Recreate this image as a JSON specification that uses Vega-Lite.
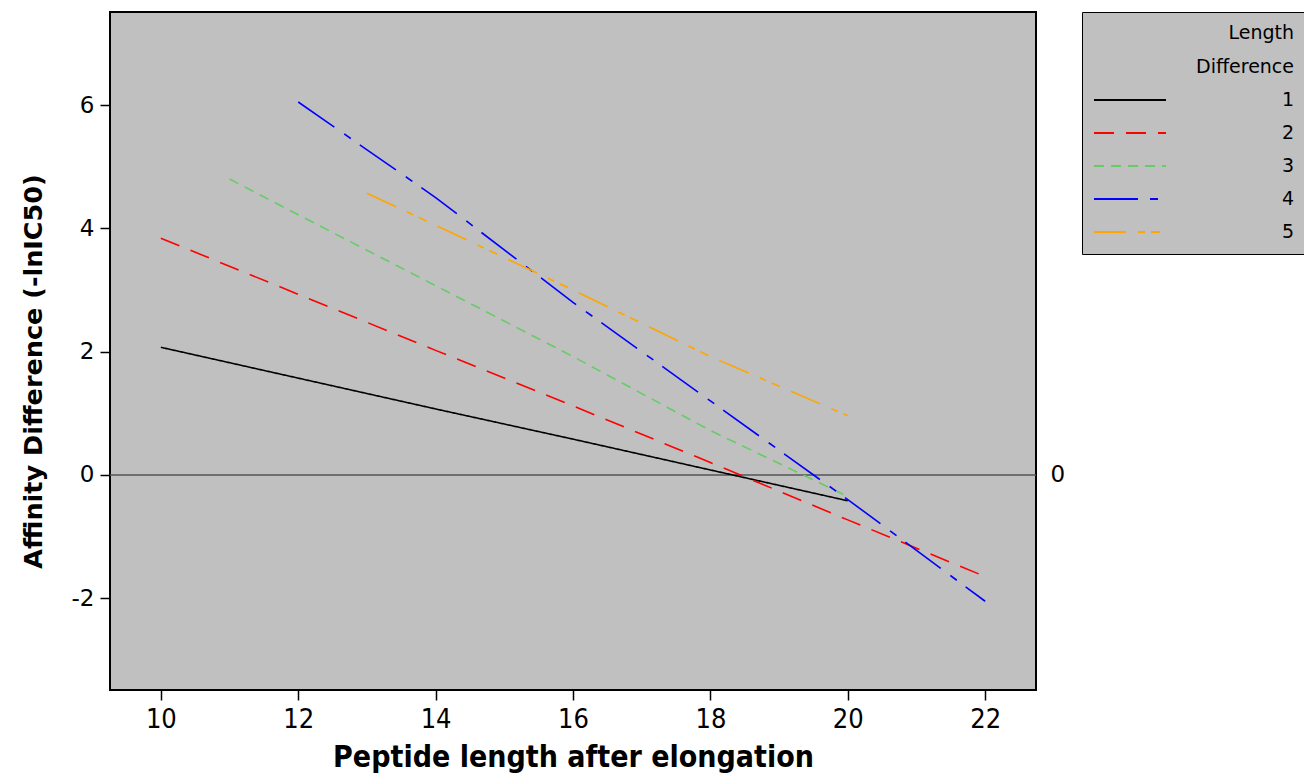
{
  "$schema": "https://vega.github.io/schema/vega-lite/v6.json",
  "width": 926,
  "height": 678,
  "autosize": "none",
  "padding": {"left": 110, "top": 12, "right": 268, "bottom": 90},
  "background": "white",
  "config": {
    "view": {"fill": "#c0c0c0", "stroke": "black", "strokeWidth": 2},
    "font": "DejaVu Sans"
  },
  "data": {
    "values": [
      {"x": 10, "y": 2.07, "d": "1"}, {"x": 12, "y": 1.57, "d": "1"}, {"x": 14, "y": 1.07, "d": "1"}, {"x": 16, "y": 0.58, "d": "1"}, {"x": 18, "y": 0.08, "d": "1"}, {"x": 20, "y": -0.42, "d": "1"},
      {"x": 10, "y": 3.84, "d": "2"}, {"x": 12, "y": 2.93, "d": "2"}, {"x": 14, "y": 2.02, "d": "2"}, {"x": 16, "y": 1.12, "d": "2"}, {"x": 18, "y": 0.2, "d": "2"}, {"x": 20, "y": -0.73, "d": "2"}, {"x": 22, "y": -1.65, "d": "2"},
      {"x": 11, "y": 4.8, "d": "3"}, {"x": 12, "y": 4.22, "d": "3"}, {"x": 14, "y": 3.07, "d": "3"}, {"x": 16, "y": 1.92, "d": "3"}, {"x": 18, "y": 0.72, "d": "3"}, {"x": 20, "y": -0.35, "d": "3"},
      {"x": 12, "y": 6.05, "d": "4"}, {"x": 14, "y": 4.5, "d": "4"}, {"x": 16, "y": 2.8, "d": "4"}, {"x": 18, "y": 1.2, "d": "4"}, {"x": 20, "y": -0.4, "d": "4"}, {"x": 22, "y": -2.05, "d": "4"},
      {"x": 13, "y": 4.57, "d": "5"}, {"x": 14, "y": 4.05, "d": "5"}, {"x": 16, "y": 3.0, "d": "5"}, {"x": 18, "y": 1.92, "d": "5"}, {"x": 20, "y": 0.96, "d": "5"}
    ]
  },
  "layer": [
    {
      "mark": {"type": "rule", "color": "#555555", "strokeWidth": 1.5},
      "data": {"values": [{"z": 0}]},
      "encoding": {
        "y": {
          "field": "z", "type": "quantitative",
          "scale": {"domain": [-3.49, 7.51], "nice": false, "zero": false},
          "axis": {
            "orient": "right", "values": [0], "title": null, "ticks": false, "domain": false, "grid": false,
            "labelFont": "DejaVu Sans", "labelFontSize": 23, "labelColor": "black", "labelPadding": 14
          }
        }
      }
    },
    {
      "mark": {"type": "line", "strokeWidth": 1.6},
      "encoding": {
        "x": {
          "field": "x", "type": "quantitative",
          "scale": {"domain": [9.26, 22.74], "nice": false, "zero": false},
          "axis": {
            "values": [10, 12, 14, 16, 18, 20, 22], "grid": false, "domain": false,
            "tickColor": "black", "tickSize": 10, "tickWidth": 1.5,
            "labelFont": "Liberation Sans Narrow, DejaVu Sans Condensed", "labelFontSize": 27, "labelColor": "black", "labelPadding": 6,
            "title": "Peptide length after elongation",
            "titleFont": "DejaVu Sans Condensed", "titleFontSize": 30, "titleFontWeight": "bold", "titleColor": "black", "titlePadding": 10
          }
        },
        "y": {
          "field": "y", "type": "quantitative",
          "scale": {"domain": [-3.49, 7.51], "nice": false, "zero": false},
          "axis": {
            "values": [-2, 0, 2, 4, 6], "grid": false, "domain": false,
            "labelExpr": "'' + datum.value",
            "tickColor": "black", "tickSize": 10, "tickWidth": 1.5,
            "labelFont": "DejaVu Sans", "labelFontSize": 23, "labelColor": "black", "labelPadding": 6,
            "title": "Affinity Difference (-lnIC50)",
            "titleFont": "DejaVu Sans", "titleFontSize": 25.5, "titleFontWeight": "bold", "titleColor": "black",
            "titleX": -77, "titleY": 359, "titleAngle": -90, "titleBaseline": "middle"
          }
        },
        "color": {
          "field": "d", "type": "nominal",
          "scale": {"domain": ["1", "2", "3", "4", "5"], "range": ["#000000", "#ff0000", "#66cc66", "#0000ff", "#ffa500"]},
          "legend": {
            "title": ["Length", "Difference"],
            "orient": "none", "legendX": 972, "legendY": 0,
            "fillColor": "#c0c0c0", "strokeColor": "black", "padding": 12,
            "titleFont": "DejaVu Sans", "titleFontSize": 19, "titleFontWeight": "normal", "titleColor": "black",
            "titleAlign": "right", "titleAnchor": "end", "titleLineHeight": 34, "titlePadding": 12,
            "labelFont": "DejaVu Sans", "labelFontSize": 19, "labelColor": "black",
            "symbolType": "M-1.1,0H6.1", "symbolSize": 400, "symbolStrokeWidth": 2,
            "labelAlign": "right", "labelOffset": 178, "rowPadding": 12
          }
        },
        "strokeDash": {
          "field": "d", "type": "nominal",
          "scale": {"domain": ["1", "2", "3", "4", "5"], "range": [[1, 0], [20, 12], [10, 7], [44, 12, 8, 11], [32, 12, 7, 6, 9, 12]]},
          "legend": null
        }
      }
    }
  ],
  "resolve": {"axis": {"y": "independent"}}
}
